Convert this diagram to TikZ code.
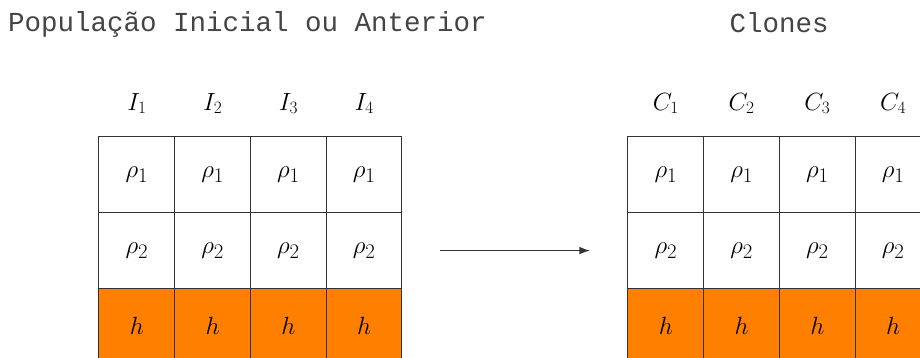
\documentclass[tikz,border=0pt]{standalone}
\usepackage{fontspec}
\setmonofont{Liberation Mono}
\usetikzlibrary{arrows.meta, positioning}
\definecolor{cellOrange}{HTML}{FF8000}
\definecolor{lineDark}{HTML}{333333}
\definecolor{textGray}{HTML}{444444}
\tikzset{
  cellA/.style={rectangle, draw=lineDark, line width=1pt, outer sep=0pt,
                minimum width=75.75pt, minimum height=75.7pt, inner sep=0pt,
                font=\fontsize{29}{34}\selectfont},
  cellH/.style={cellA, fill=cellOrange},
  labelA/.style={inner sep=0pt, font=\fontsize{27}{32}\selectfont},
  titleA/.style={inner sep=0pt, text=textGray, font=\ttfamily\fontsize{27.5}{32}\selectfont},
  arrowK/.style={-{Latex[length=10.5pt, width=7.5pt]}, lineDark, line width=1.2pt},
}
\begin{document}
\begin{tikzpicture}[x=1pt, y=-1pt]
    \useasboundingbox (0,0) rectangle (920,358);
    % titulos
    \node[titleA, anchor=base west] (ttlPop) at (8, 32) {População Inicial ou Anterior};
    \node[titleA, anchor=base] (ttlClo) at (779, 33) {Clones};
    % populacao inicial
    \foreach \i in {1,...,4} {
      \node[cellA] (a\i) at (61.1+\i*75.75, 174.85) {$\rho_1$};
      \node[cellA, below=0pt of a\i] (b\i) {$\rho_2$};
      \node[cellH, below=0pt of b\i] (h\i) {$h$};
      \node[labelA, above=23pt of a\i] (i\i) {$I_{\i}$};
    }
    % clones
    \foreach \i in {1,...,4} {
      \node[cellA] (ca\i) at (590.1+\i*75.75, 174.85) {$\rho_1$};
      \node[cellA, below=0pt of ca\i] (cb\i) {$\rho_2$};
      \node[cellH, below=0pt of cb\i] (ch\i) {$h$};
      \node[labelA, above=23pt of ca\i] (c\i) {$C_{\i}$};
    }
    \draw[arrowK] ([xshift=38pt]b4.east) -- ([xshift=-38pt]cb1.west);
  \end{tikzpicture}
\end{document}
